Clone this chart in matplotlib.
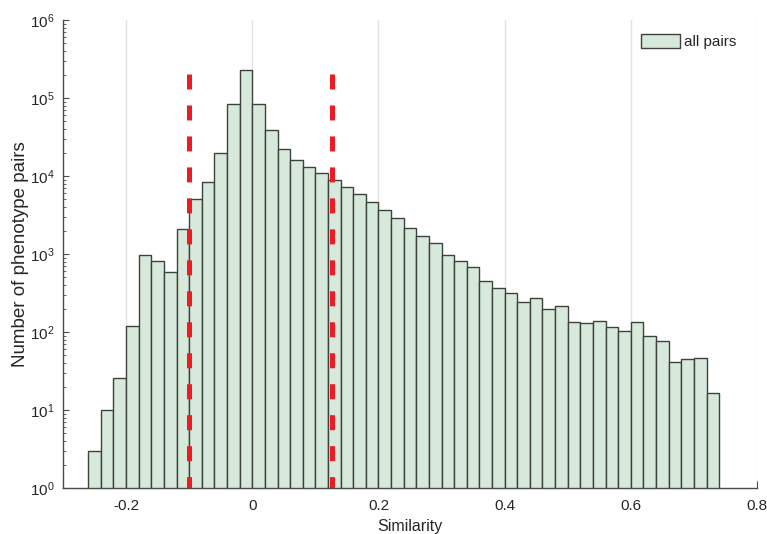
import numpy as np
import matplotlib
matplotlib.use("Agg")
import matplotlib.pyplot as plt
from matplotlib.ticker import LogLocator

plt.rcParams['font.family'] = ['Liberation Sans', 'DejaVu Sans']
plt.rcParams['mathtext.fontset'] = 'custom'
plt.rcParams['mathtext.rm'] = 'Liberation Sans'
plt.rcParams['mathtext.it'] = 'Liberation Sans'
plt.rcParams['lines.scale_dashes'] = False

# Histogram data (bin edges and counts)
bin_edges = np.linspace(-0.26, 0.74, 51)
counts = [3, 10, 26, 119, 970, 820, 593, 2110, 5000, 8370,
          19500, 83800, 228000, 83800, 39000, 22400, 16000, 12900, 10800, 8900,
          7300, 5820, 4600, 3660, 2920, 2135, 1700, 1370, 970, 813,
          688, 455, 364, 313, 240, 270, 195, 215, 136, 132,
          138, 117, 104, 133, 89, 77, 41.6, 44.7, 46, 16.4]
thresholds = [-0.1, 0.126]
threshold_top = 2.04e5
xticks = [-0.2, 0, 0.2, 0.4, 0.6, 0.8]
xtick_labels = ['-0.2', '0', '0.2', '0.4', '0.6', '0.8']
legend_label = 'all pairs'

W, H = 767, 534
fig = plt.figure(figsize=(W / 100, H / 100), dpi=100)
ax = fig.add_axes([63 / W, (H - 488) / H, (757 - 63) / W, (488 - 20) / H])

widths = np.diff(bin_edges)
ax.bar(bin_edges[:-1], counts, width=widths, align='edge',
       color='#d6e9da', edgecolor='#3e423f', linewidth=1.0,
       label=legend_label, zorder=2)

for t in thresholds:
    ax.plot([t, t], [threshold_top, 1], color='#ec1c24', linewidth=3.6,
            dashes=(10.8, 11.5), solid_capstyle='butt', dash_capstyle='butt',
            zorder=3)

ax.set_yscale('log')
ax.set_ylim(1, 1e6)
ax.set_xlim(-0.3, 0.8)
ax.set_xticks(xticks)
ax.set_xticklabels(xtick_labels)
ax.yaxis.set_major_locator(LogLocator(base=10, numticks=10))
ax.yaxis.set_minor_locator(LogLocator(base=10, subs=np.arange(2, 10), numticks=20))

ax.xaxis.grid(True, color='#e3e3e3', linewidth=1.0, zorder=0)
ax.set_axisbelow(True)

for s in ['top', 'right']:
    ax.spines[s].set_visible(False)
for s in ['left', 'bottom']:
    ax.spines[s].set_color('#4a4a4a')
    ax.spines[s].set_linewidth(1.0)

ax.tick_params(axis='both', which='both', direction='in', colors='#4a4a4a',
               labelcolor='#262626', labelsize=11)
ax.tick_params(axis='y', which='major', length=4.5, pad=6)
ax.tick_params(axis='y', which='minor', length=2.5)
ax.tick_params(axis='x', which='major', length=5, pad=8)
ax.tick_params(axis='x', which='minor', length=0)

ax.set_xlabel('Similarity', fontsize=11.5, color='#262626', labelpad=4.5)
ax.set_ylabel('Number of phenotype pairs', fontsize=13.5, color='#262626', labelpad=0.5)

leg = ax.legend(loc='upper left', bbox_to_anchor=(633 / W, 1 - 26 / H),
                bbox_transform=fig.transFigure, frameon=False, fontsize=11,
                borderpad=0, handlelength=2.6, handleheight=1.05,
                handletextpad=0.25)
for txt in leg.get_texts():
    txt.set_color('#262626')

fig.savefig('out.png', dpi=100)
